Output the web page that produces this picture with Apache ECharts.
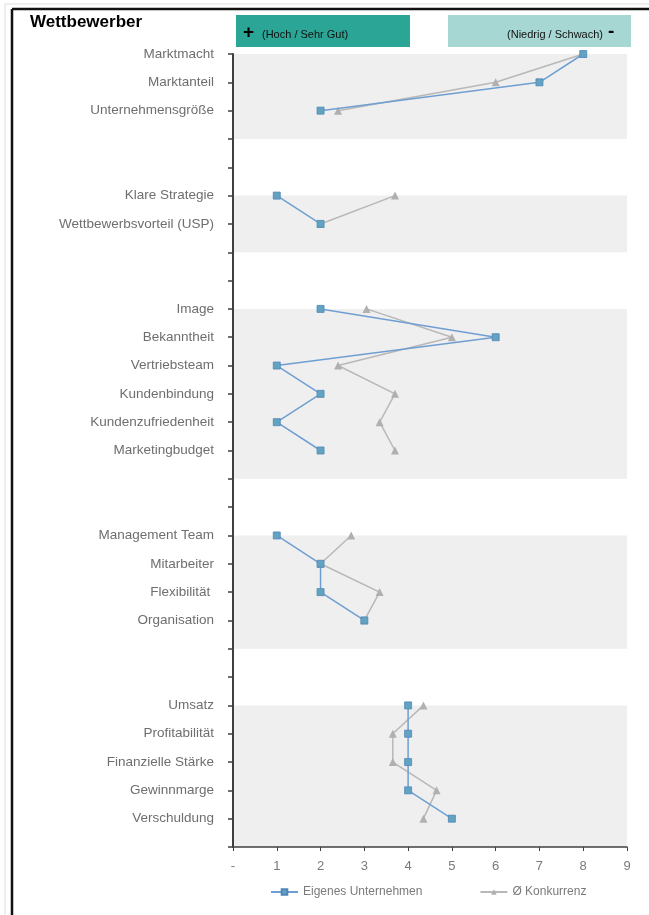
<!DOCTYPE html>
<html><head><meta charset="utf-8">
<script src="https://cdn.jsdelivr.net/npm/echarts@6/dist/echarts.min.js"></script>
<style>html,body{margin:0;padding:0;background:#fff}#c{width:649px;height:915px}</style>
</head><body><div id="c"></div>
<script>
// Rows top to bottom; '' marks an empty spacer row
var categories = ['Marktmacht','Marktanteil','Unternehmensgröße','','','Klare Strategie','Wettbewerbsvorteil (USP)','','','Image','Bekanntheit','Vertriebsteam','Kundenbindung','Kundenzufriedenheit','Marketingbudget','','','Management Team','Mitarbeiter','Flexibilität ','Organisation','','','Umsatz','Profitabilität','Finanzielle Stärke','Gewinnmarge','Verschuldung',''];
var ownValues  = [8,7,2,null,null,1,2,null,null,2,6,1,2,1,2,null,null,1,2,2,3,null,null,4,4,4,4,5,null];
var compValues = [8,6,2.4,null,null,3.7,2,null,null,3.05,5,2.4,3.7,3.35,3.7,null,null,2.7,2,3.35,3.0,null,null,4.35,3.65,3.65,4.65,4.35,null];
var xTicks = ['-','1','2','3','4','5','6','7','8','9'];
var seriesNames = ['Eigenes Unternehmen','Ø Konkurrenz'];

function toSeries(a){ return a.map(function(v){ return v === null ? '-' : v; }); }
// gray bands: each contiguous block of rows, down to the next row
var bands = [];
for (var i = 0; i < categories.length; i++) {
  if (categories[i].trim() !== '' && (i === 0 || categories[i-1].trim() === '')) {
    var j = i; while (j + 1 < categories.length && categories[j+1].trim() !== '') j++;
    bands.push([{xAxis: 0, yAxis: i}, {xAxis: 9, yAxis: j + 1}]);
  }
}

var chart = echarts.init(document.getElementById('c'));
var font = 'Liberation Sans';
chart.setOption({
  animation: false,
  textStyle: {fontFamily: font},
  grid: {left: 233, right: 22, top: 54, bottom: 68, containLabel: false},
  xAxis: {
    type: 'value', min: 0, max: 9, interval: 1, z: 10,
    axisLine: {show: true, lineStyle: {color: '#404040', width: 1.5}},
    axisTick: {show: true, length: 4, lineStyle: {color: '#404040'}},
    splitLine: {show: false},
    axisLabel: {color: '#7a7a7a', fontSize: 13, margin: 13, formatter: function(v){ return xTicks[v]; }}
  },
  yAxis: {
    type: 'category', data: categories, inverse: true, boundaryGap: false, z: 10,
    axisLine: {show: true, lineStyle: {color: '#404040', width: 2}},
    axisTick: {show: true, length: 5, interval: 0, lineStyle: {color: '#404040', width: 1.5}},
    axisLabel: {color: '#6e6e6e', fontSize: 13.5, margin: 19, interval: 0},
    splitLine: {show: false}
  },
  legend: {
    bottom: 12, left: 265, itemGap: 57, itemWidth: 27, itemHeight: 7,
    textStyle: {color: '#7a7a7a', fontSize: 12},
    data: seriesNames
  },
  series: [
    {
      name: seriesNames[0], type: 'line', data: toSeries(ownValues), z: 4,
      symbol: 'rect', symbolSize: 7,
      lineStyle: {color: '#6f9fd2', width: 1.5},
      itemStyle: {color: '#62a3c2', borderColor: '#4f86b8', borderWidth: 0.8},
      markArea: {silent: true, itemStyle: {color: '#efefef'}, data: bands}
    },
    {
      name: seriesNames[1], type: 'line', data: toSeries(compValues), z: 3,
      symbol: 'triangle', symbolSize: 8,
      lineStyle: {color: '#b8b8b8', width: 1.5},
      itemStyle: {color: '#b0b0b0'}
    }
  ],
  graphic: [
    {type: 'line', shape: {x1: 5, y1: 4, x2: 5, y2: 915}, style: {stroke: '#dddddd', lineWidth: 1}},
    {type: 'line', shape: {x1: 5, y1: 4, x2: 649, y2: 4}, style: {stroke: '#dddddd', lineWidth: 1}},
    {type: 'line', shape: {x1: 12, y1: 9, x2: 12, y2: 915}, style: {stroke: '#111', lineWidth: 2.5}},
    {type: 'line', shape: {x1: 12, y1: 9, x2: 649, y2: 9}, style: {stroke: '#111', lineWidth: 2.5}},
    {type: 'text', left: 30, top: 14, style: {text: 'Wettbewerber', font: 'bold 17px ' + font, fill: '#000'}},
    {type: 'rect', shape: {x: 236, y: 15, width: 174, height: 32}, style: {fill: '#2ba596'}},
    {type: 'text', x: 243, y: 33, style: {text: '+', font: 'bold 19px ' + font, fill: '#000', textVerticalAlign: 'middle'}},
    {type: 'text', x: 262, y: 35, style: {text: '(Hoch / Sehr Gut)', font: '11px ' + font, fill: '#111', textVerticalAlign: 'middle'}},
    {type: 'rect', shape: {x: 448, y: 15, width: 183, height: 32}, style: {fill: '#a7d7d2'}},
    {type: 'text', x: 603, y: 35, style: {text: '(Niedrig / Schwach)', font: '11px ' + font, fill: '#111', textAlign: 'right', textVerticalAlign: 'middle'}},
    {type: 'text', x: 608, y: 32, style: {text: '-', font: 'bold 19px ' + font, fill: '#000', textVerticalAlign: 'middle'}}
  ]
});
</script></body></html>
